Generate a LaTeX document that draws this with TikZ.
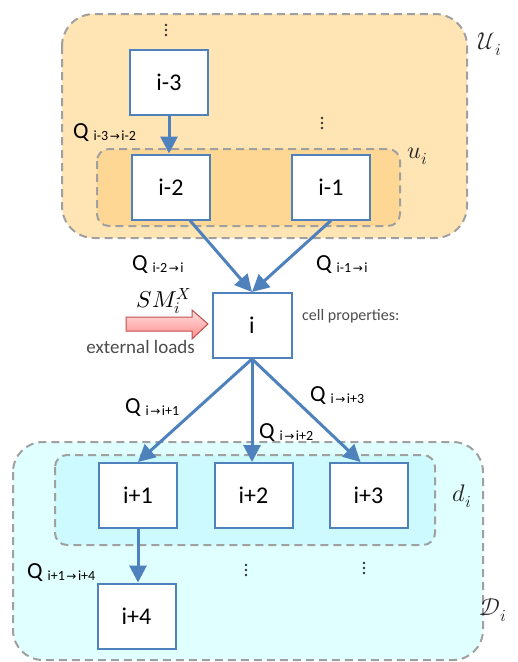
\documentclass[tikz,border=0pt]{standalone}
\usepackage{fontspec}
\usepackage{unicode-math}
\setmainfont{Carlito}
\setmathfont{Latin Modern Math}
\newfontfamily\arrowfont{DejaVu Sans}
\usetikzlibrary{arrows.meta}
\definecolor{cellblue}{RGB}{79,129,189}
\definecolor{upout}{RGB}{255,229,180}
\definecolor{upin}{RGB}{255,215,148}
\definecolor{dnout}{RGB}{224,255,255}
\definecolor{dnin}{RGB}{204,250,255}
\definecolor{dashgray}{RGB}{160,160,160}
\definecolor{loadred}{RGB}{192,80,77}
\newcommand{\qarr}{\hspace{1.5pt}{\arrowfont\fontsize{12}{12}\selectfont →}\hspace{1.5pt}}
\newcommand{\qlab}[1]{{\fontsize{23}{23}\selectfont Q}\hspace{5pt}\raisebox{-2pt}{\fontsize{14}{14}\selectfont #1}}
\begin{document}
\begin{tikzpicture}[x=1pt,y=-1pt,
  cell/.style={draw=cellblue, line width=2pt, fill=white, minimum width=78pt, minimum height=65pt, inner sep=0pt, font=\fontsize{24}{24}\selectfont},
  flow/.style={draw=cellblue, line width=3pt, -{Triangle[width=17pt,length=17pt]}},
  region/.style={draw=dashgray, line width=2pt, dash pattern=on 8pt off 5pt},
  qlabel/.style={anchor=base west, inner sep=0pt},
  side/.style={inner sep=0pt, text=black!70},
  setlabel/.style={inner sep=0pt, font=\fontsize{24}{24}\selectfont, text=black!85}]
\useasboundingbox (0,0) rectangle (518,662);
% regions
\draw[region, fill=upout, rounded corners=32pt] (62,14) rectangle (467,238);
\draw[region, fill=upin, rounded corners=12pt] (97,149) rectangle (400,226);
\draw[region, fill=dnout, rounded corners=30pt] (13,442) rectangle (483,660);
\draw[region, fill=dnin, rounded corners=12pt] (55,455) rectangle (435,545);
\node[setlabel] (Ulab) at (490,44) {$\mathcal{U}_i$};
\node[setlabel] (ulab) at (418,156) {$\mathcal{u}_i$};
\node[setlabel] (dlab) at (462,496) {$\mathcal{d}_i$};
\node[setlabel] (Dlab) at (493,610) {$\mathcal{D}_i$};
% cells
\node[cell] (im3) at (169,82.5) {i-3};
\node[cell] (im2) at (171,187) {i-2};
\node[cell] (im1) at (331,187) {i-1};
\node[cell, minimum width=79pt] (ci) at (252,325.5) {i};
\node[cell] (ip1) at (138,495.5) {i+1};
\node[cell] (ip2) at (253.5,495.5) {i+2};
\node[cell] (ip3) at (368.5,495.5) {i+3};
\node[cell] (ip4) at (136.5,616) {i+4};
% dots
\foreach \x/\y in {166/30, 322/123, 246/570, 364/568}
  \fill[black!80] (\x,\y-5) circle (1.3pt) (\x,\y) circle (1.3pt) (\x,\y+5) circle (1.3pt);
% flows
\draw[flow] (im3.south) -- (im3.south |- im2.north);
\draw[flow] ([xshift=19pt]im2.south) -- (ci.north);
\draw[flow] (im1.south) -- (ci.north);
\draw[flow] (ci.south) -- (ip1.north);
\draw[flow] (ci.south) -- (ci.south |- ip2.north);
\draw[flow] (ci.south) -- ([xshift=-8pt]ip3.north);
\draw[flow] (ip1.south) -- (ip1.south |- ip4.north);
% flow labels
\node[qlabel] (q32) at (73,138) {\qlab{i-3\qarr i-2}};
\node[qlabel] (q2i) at (132,270) {\qlab{i-2\qarr i}};
\node[qlabel] (q1i) at (316,270) {\qlab{i-1\qarr i}};
\node[qlabel] (qi1) at (125,413) {\qlab{i\qarr i+1}};
\node[qlabel] (qi2) at (259,438) {\qlab{i\qarr i+2}};
\node[qlabel] (qi3) at (310,401) {\qlab{i\qarr i+3}};
\node[qlabel] (q14) at (27,578) {\qlab{i+1\qarr i+4}};
% external load
\draw[draw=loadred, line width=1pt, top color=red!12, bottom color=red!45]
  (126,317) -- (192,317) -- (192,310) -- (208,324) -- (192,339) -- (192,331) -- (126,331) -- cycle;
\node[inner sep=0pt, font=\fontsize{23}{23}\selectfont] (sm) at (164,301) {$SM_i^X$};
\node[side, anchor=east, font=\fontsize{19}{19}\selectfont] (ext) at (195,347) {external loads};
\node[side, anchor=west, font=\fontsize{16}{16}\selectfont] (cp) at (302,316) {cell properties:};
\end{tikzpicture}
\end{document}
